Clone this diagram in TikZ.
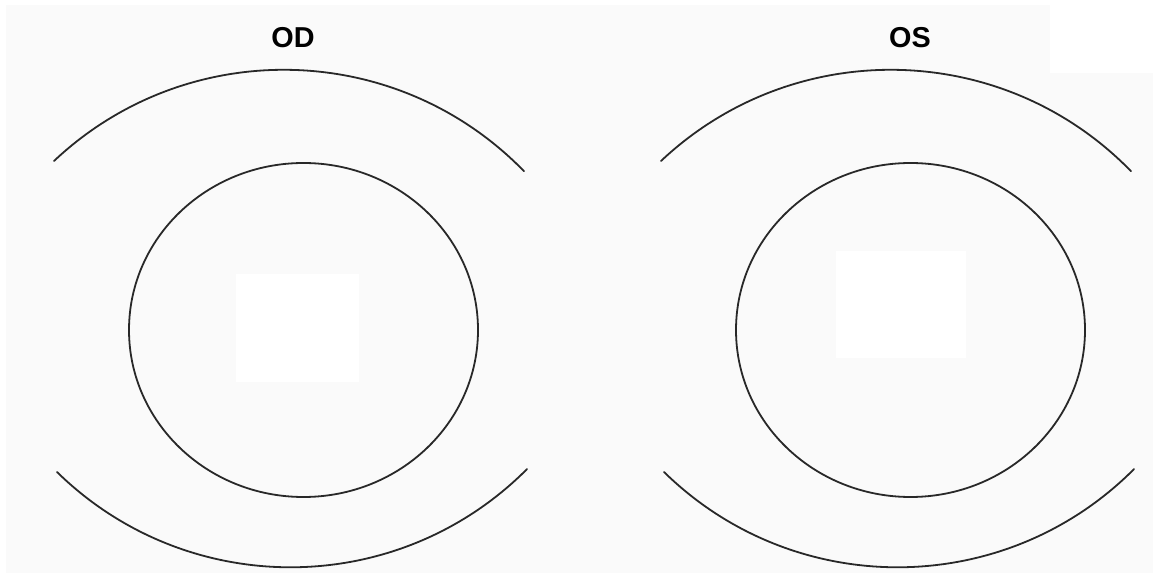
\documentclass[tikz,border=0pt]{standalone}
\usepackage{fontspec}
\setmainfont{Liberation Sans}
\usepackage{tikz}
\definecolor{bggray}{RGB}{250,250,250}
\definecolor{linegray}{RGB}{40,40,40}

\begin{document}
\begin{tikzpicture}[x=1pt,y=1pt,
    eyeline/.style={draw=linegray,line width=1.8pt,line cap=round},
    eyelabel/.style={font=\fontsize{28.8}{34}\selectfont\bfseries,anchor=base,inner sep=0pt}]
  \useasboundingbox (0,0) rectangle (1153,573);
  \fill[white] (0,0) rectangle (1153,573);
  \fill[bggray] (6,0) rectangle (1153,568);
  \fill[white] (1050,500) rectangle (1153,573);
  \fill[white] (236,191) rectangle (359,299);
  \fill[white] (836,215) rectangle (966,322);
  \foreach \dx/\lx/\lab/\nm in {0/293/OD/od,607/910/OS/os} {
    \node[eyelabel] (\nm) at (\lx,525.7) {\lab};
    % upper lid, iris, lower lid
    \draw[eyeline] ({54+\dx},412) arc[start angle=133.3,end angle=44.2,radius=335.1];
    \draw[eyeline] ({303.5+\dx},243) ellipse[x radius=174.5,y radius=167];
    \draw[eyeline] ({57+\dx},101) arc[start angle=-134.4,end angle=-44.9,radius=333.8];
  }
\end{tikzpicture}
\end{document}
